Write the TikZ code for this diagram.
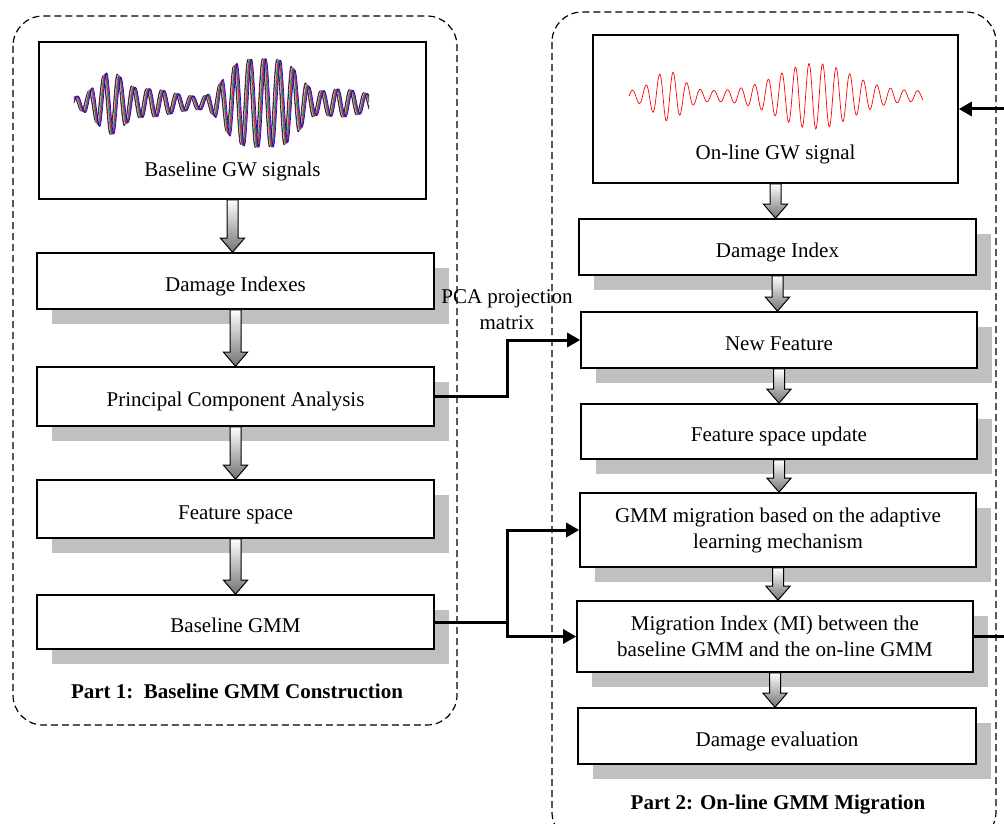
\documentclass[tikz,border=0pt]{standalone}
\usepackage{fontspec}
\setmainfont{Liberation Serif}
\usetikzlibrary{arrows.meta,shadows,calc}
\definecolor{shd}{RGB}{192,192,192}
\tikzset{
  txt/.style={font=\fontsize{21}{26}\selectfont, align=center, inner sep=0pt},
  box/.style={draw=black, line width=1.6pt, fill=white, minimum width=397pt, inner sep=0pt, align=center, font=\fontsize{21}{26}\selectfont},
  sbox/.style={box, drop shadow={shadow xshift=15pt, shadow yshift=-15pt, fill=shd, opacity=1}},
  one/.style={text height=20pt, text depth=0pt},
  conn/.style={line width=3pt, -{Triangle[length=13pt,width=14pt]}},
  plain/.style={line width=3pt},
  part/.style={line width=1.2pt, dash pattern=on 7pt off 4pt, rounded corners=30pt},
  title/.style={font=\fontsize{21}{26}\selectfont\bfseries, inner sep=0pt},
  wave/.style={line width=0.7pt},
  declare function={
    sq(\t)=\t*\t;
    envA(\t)=6+24*exp(-min(sq((\t-110)/18),15))+8*exp(-min(sq((\t-150)/30),15))+38*exp(-min(sq(sq((\t-262)/42)),15))+8*exp(-min(sq((\t-340)/30),15));
    envB(\t)=5+20*exp(-min(sq((\t-668)/20),15))+28*exp(-min(sq((\t-815)/50),15));
  }
}
\newcommand\barrow[2]{\path[draw=black,line width=1pt,top color=white,bottom color=black!55]
  let \p1=(#1.south),\p2=(#2.north) in
  (\x1-5.5pt,\y1) -- (\x1+5.5pt,\y1) -- (\x1+5.5pt,\y2+14pt) -- (\x1+12pt,\y2+14pt) -- (\x1,\y2) -- (\x1-12pt,\y2+14pt) -- (\x1-5.5pt,\y2+14pt) -- cycle;}
\begin{document}
\begin{tikzpicture}[x=1pt,y=-1pt]
\useasboundingbox (0,0) rectangle (1004,824);
\clip (0,0) rectangle (1004,824);
\fill[white] (0,0) rectangle (1004,824);
% part frames
\draw[part] (13,16) rectangle (457,725);
\draw[part] (552,12) rectangle (996,842);
% left column
\node[box, minimum width=387pt, minimum height=157pt] (gw1) at (232.5,120.5) {};
\node[txt] (gw1t) at (232.5,171) {Baseline GW signals};
\node[sbox, one, minimum height=56pt] (di1) at (235.5,281) {Damage Indexes};
\node[sbox, one, minimum height=59pt] (pca) at (235.5,396.5) {Principal Component Analysis};
\node[sbox, one, minimum height=58pt] (fs) at (235.5,509) {Feature space};
\node[sbox, one, minimum height=54pt] (bg) at (235.5,622) {Baseline GMM};
\node[title] (p1) at (237,691) {Part 1:\, Baseline GMM Construction};
% right column
\node[box, minimum width=365pt, minimum height=148pt] (gw2) at (775.5,109) {};
\node[txt] (gw2t) at (775.5,154) {On-line GW signal};
\node[sbox, one, minimum height=56pt] (di2) at (777.5,247) {Damage Index};
\node[sbox, one, minimum height=56pt, minimum width=396pt] (nf) at (779,340) {New Feature};
\node[sbox, one, minimum height=55pt, minimum width=396pt] (fsu) at (779,431.5) {Feature space update};
\node[sbox, minimum height=74pt, minimum width=396pt] (gm) at (778,530) {GMM migration based on the adaptive\\learning mechanism};
\node[sbox, minimum height=71pt, minimum width=396pt] (mi) at (775,636.5) {Migration Index (MI) between the\\baseline GMM and the on-line GMM};
\node[sbox, one, minimum height=56pt, minimum width=398pt] (de) at (777,736) {Damage evaluation};
\node[title] (p2) at (778,805) {Part 2: On-line GMM Migration};
% waveforms
\foreach \c/\p in {violet/98, black/84, yellow!85!black/70, cyan/56, magenta/42, green!60!black/28, red/14, blue/0}{
  \draw[wave, \c] plot[domain=74:369, samples=500] (\x,{103-envA(\x)*sin(24.83*(\x-74)+\p)});
}
\draw[wave, red] plot[domain=629:923, samples=500] (\x,{96-envB(\x)*sin(26.5*(\x-629))});
% block arrows
\barrow{gw1}{di1}
\barrow{di1}{pca}
\barrow{pca}{fs}
\barrow{fs}{bg}
\barrow{gw2}{di2}
\barrow{di2}{nf}
\barrow{nf}{fsu}
\barrow{fsu}{gm}
\barrow{gm}{mi}
\barrow{mi}{de}
% connectors
\coordinate (j1) at (507,0);
\coordinate (fb) at (1020,0);
\draw[conn] (pca.east) -- (pca.east -| j1) |- (nf.west);
\draw[plain] (bg.east) -- (bg.east -| j1);
\draw[conn] (bg.east -| j1) |- (gm.west);
\draw[conn] (bg.east -| j1) |- (mi.west);
\draw[conn] (mi.east) -- (mi.east -| fb) |- (gw2.east);
\node[txt] (pcal) at (507,310) {PCA projection\\matrix};
\end{tikzpicture}
\end{document}
